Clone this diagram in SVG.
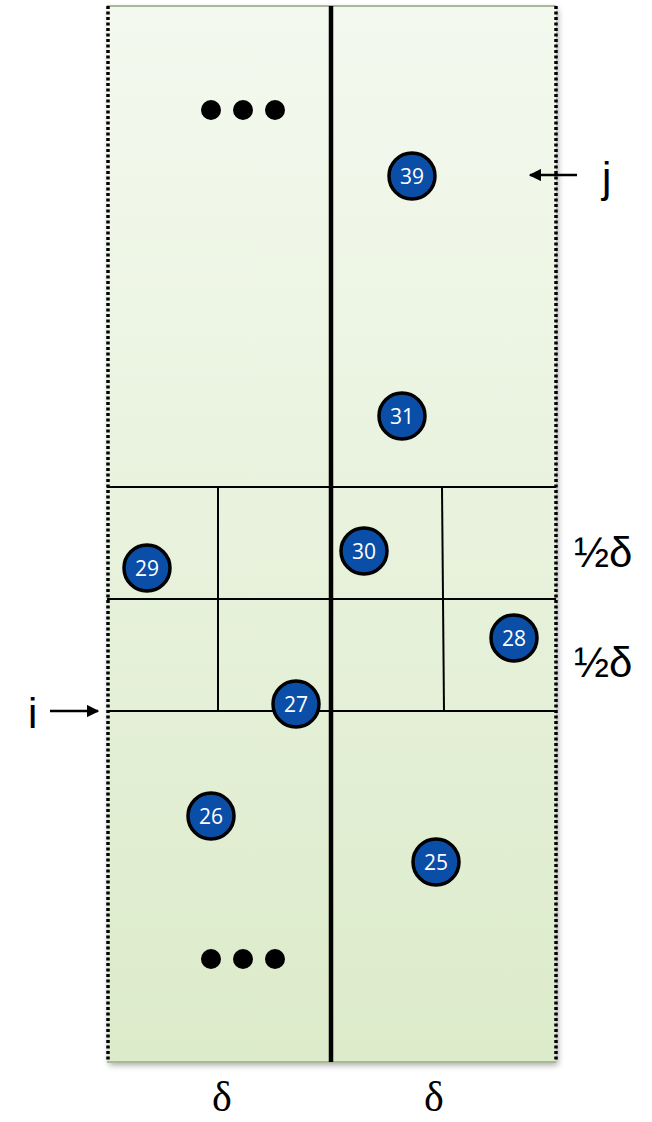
<svg xmlns="http://www.w3.org/2000/svg" width="652" height="1122" viewBox="0 0 652 1122">
<defs>
<linearGradient id="bg" x1="0" y1="0" x2="0" y2="1">
<stop offset="0" stop-color="#f4f9ef"/>
<stop offset="1" stop-color="#dcebca"/>
</linearGradient>
<filter id="sh" x="-5%" y="-5%" width="110%" height="110%">
<feGaussianBlur in="SourceAlpha" stdDeviation="3"/>
<feOffset dx="2" dy="3"/>
<feComponentTransfer><feFuncA type="linear" slope="0.35"/></feComponentTransfer>
<feMerge><feMergeNode/><feMergeNode in="SourceGraphic"/></feMerge>
</filter>
<marker id="ah" viewBox="0 0 10 10" refX="9" refY="5" markerWidth="5" markerHeight="5" orient="auto">
<path d="M0,0 L10,5 L0,10 Z" fill="#000"/>
</marker>
</defs>
<style>
.node circle{fill:#0a4ea8;stroke:#000;stroke-width:3.5}
.node text{fill:#fff;font-family:"Open Sans","Liberation Sans",sans-serif;font-size:21px;text-anchor:middle}
.grid{stroke:#000;stroke-width:2;fill:none}
.lbl{font-family:"Liberation Sans","DejaVu Sans",sans-serif;font-size:42px;fill:#000}
.delta{font-family:"Liberation Serif","DejaVu Serif",serif;font-size:42px;fill:#000;text-anchor:middle}
.arr{stroke:#000;stroke-width:2.5;marker-end:url(#ah)}
.dot{fill:#000}
</style>
<g id="strip">
<rect x="107" y="6" width="449" height="1056" fill="url(#bg)" filter="url(#sh)"/>
<line x1="107" y1="6" x2="556" y2="6" stroke="#a9b995" stroke-width="2"/>
<line x1="107" y1="1062" x2="556" y2="1062" stroke="#a9b995" stroke-width="2"/>
<line x1="108" y1="6" x2="108" y2="1062" stroke="#000" stroke-width="3.5" stroke-dasharray="3,2.5"/>
<line x1="556" y1="6" x2="556" y2="1062" stroke="#000" stroke-width="3.5" stroke-dasharray="3,2.5"/>
</g>
<g id="connectors">
<line x1="331" y1="6" x2="331" y2="1062" stroke="#000" stroke-width="4.5"/>
<line class="grid" x1="107" y1="487" x2="556" y2="487"/>
<line class="grid" x1="107" y1="599" x2="556" y2="599"/>
<line class="grid" x1="107" y1="711" x2="556" y2="711"/>
<line class="grid" x1="218" y1="487" x2="218" y2="711"/>
<line class="grid" x1="442" y1="487" x2="444" y2="711"/>
<line class="arr" x1="577" y1="175" x2="530" y2="175"/>
<line class="arr" x1="50" y1="711" x2="98" y2="711"/>
</g>
<g id="dots-top">
<circle class="dot" cx="211" cy="110" r="10"/>
<circle class="dot" cx="243" cy="110" r="10"/>
<circle class="dot" cx="275" cy="110" r="10"/>
</g>
<g id="dots-bottom">
<circle class="dot" cx="211" cy="959" r="10"/>
<circle class="dot" cx="243" cy="959" r="10"/>
<circle class="dot" cx="275" cy="959" r="10"/>
</g>
<g id="n39" class="node"><circle cx="412" cy="176" r="23"/><text x="412" y="184">39</text></g>
<g id="n31" class="node"><circle cx="402" cy="416" r="23"/><text x="402" y="424">31</text></g>
<g id="n30" class="node"><circle cx="364" cy="551" r="23"/><text x="364" y="559">30</text></g>
<g id="n29" class="node"><circle cx="147" cy="568" r="23"/><text x="147" y="576">29</text></g>
<g id="n28" class="node"><circle cx="514" cy="638" r="23"/><text x="514" y="646">28</text></g>
<g id="n27" class="node"><circle cx="296" cy="704" r="23"/><text x="296" y="712">27</text></g>
<g id="n26" class="node"><circle cx="211" cy="816" r="23"/><text x="211" y="824">26</text></g>
<g id="n25" class="node"><circle cx="436" cy="862" r="23"/><text x="436" y="870">25</text></g>
<g id="labels">
<text class="lbl" x="602" y="192">j</text>
<text class="lbl" x="28" y="728">i</text>
<text class="lbl" x="574" y="567">½δ</text>
<text class="lbl" x="574" y="677">½δ</text>
<text class="delta" x="222" y="1111">δ</text>
<text class="delta" x="434" y="1111">δ</text>
</g>
</svg>
